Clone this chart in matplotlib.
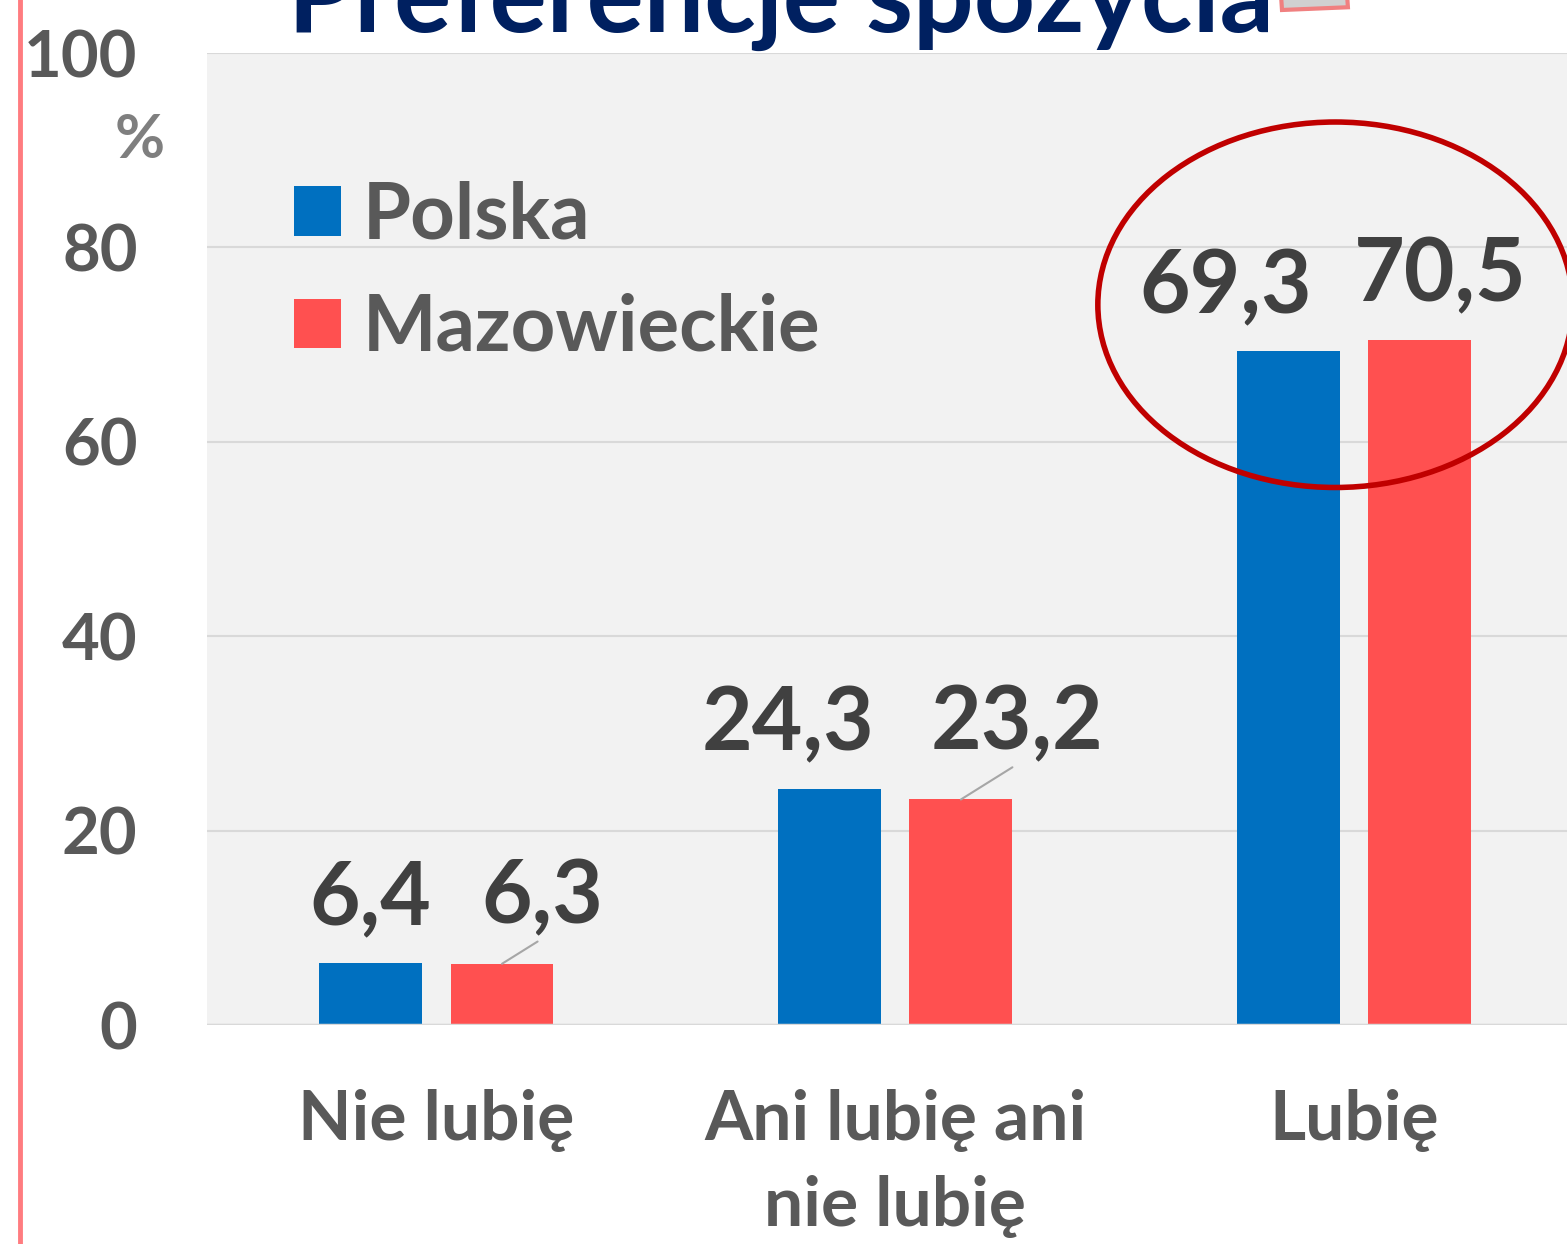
import numpy as np
import matplotlib.pyplot as plt
from matplotlib.patches import Ellipse, Rectangle
from matplotlib.lines import Line2D

plt.rcParams['font.family'] = ['Lato', 'DejaVu Sans']

# data
categories = ['Nie lubię', 'Ani lubię ani\nnie lubię', 'Lubię']
polska = [6.4, 24.3, 69.3]
mazowieckie = [6.3, 23.2, 70.5]
polska_labels = ['6,4', '24,3', '69,3']
mazow_labels = ['6,3', '23,2', '70,5']
yticks = [0, 20, 40, 60, 80, 100]

blue = '#0070C0'
red = '#FF5050'
grey_txt = '#595959'
lbl_txt = '#404040'

fig = plt.figure(figsize=(15.67, 12.44), dpi=100)
ax = fig.add_axes([207 / 1567, 1 - 1025 / 1244, 1 - 207 / 1567, (1025 - 53) / 1244])
ax.set_facecolor('#F2F2F2')

x = np.arange(len(categories))
w = 0.224
off = 0.143
b1 = ax.bar(x - off, polska, w, color=blue, label='Polska', zorder=3)
b2 = ax.bar(x + off, mazowieckie, w, color=red, label='Mazowieckie', zorder=3)

ax.set_xlim(-0.5, 2.464)
ax.set_ylim(0, 100)
ax.set_yticks(yticks)
ax.set_yticklabels([str(v) for v in yticks])
ax.grid(axis='y', color='#D9D9D9', linewidth=1.5, zorder=0)
ax.axhline(0, color='#D9D9D9', linewidth=2.5, zorder=4)
for s in ax.spines.values():
    s.set_visible(False)
ax.tick_params(length=0)
ax.tick_params(axis='y', pad=50, labelsize=47, labelcolor=grey_txt)
ax.tick_params(axis='x', pad=46, labelsize=50, labelcolor=grey_txt)
ax.set_xticks(x)
ax.set_xticklabels(categories, linespacing=1.45)
for t in ax.get_xticklabels() + ax.get_yticklabels():
    t.set_fontweight('bold')

# data labels (pixel offsets from bar top center)
p_off = [(0, 38), (-42, 38), (-63, 38)]
m_off = [(40, 40), (56, 50), (21, 38)]
leader = [True, True, False]
for i in range(len(categories)):
    ax.annotate(polska_labels[i], (x[i] - off, polska[i]), xytext=p_off[i],
                textcoords='offset pixels', ha='center', va='baseline',
                fontsize=63, fontweight='bold', color=lbl_txt, zorder=5)
    ap = None
    if leader[i]:
        ap = dict(arrowstyle='-', color='#A6A6A6', lw=1.5, shrinkA=0, shrinkB=0,
                  relpos=(0.5, 0.0))
    ax.annotate(mazow_labels[i], (x[i] + off, mazowieckie[i]), xytext=m_off[i],
                textcoords='offset pixels', ha='center', va='baseline',
                fontsize=63, fontweight='bold', color=lbl_txt, zorder=5,
                arrowprops=ap)

# legend
leg = ax.legend(loc='upper left', bbox_to_anchor=(0.041, 0.901), frameon=False,
                prop=dict(size=56, weight='bold'), handlelength=0.6,
                handleheight=0.6, handletextpad=0.28, labelspacing=0.52,
                borderaxespad=0)
for t in leg.get_texts():
    t.set_color(grey_txt)

# highlight ellipse
ax.add_patch(Ellipse((1.959, 74.1), 1.035, 37.6, fill=False, edgecolor='#C00000',
                     linewidth=4, zorder=6, clip_on=False))

# % label
fig.text(140 / 1567, 1 - 140 / 1244, '%', ha='center', va='center', fontsize=44,
         fontweight='bold', color='#7F7F7F')

# title (cut at top, as in the source slide)
fig.text(288 / 1567, 1 - 32 / 1244, 'Preferencje spożycia', ha='left', va='baseline',
         fontsize=77, fontweight='bold', color='#002060')

# small pink-edged box next to title
fig.patches.append(Rectangle((1282 / 1567, 1 - 10 / 1244), 66 / 1567, 14 / 1244,
                             angle=3, transform=fig.transFigure, facecolor='#D0D0D0',
                             edgecolor='#F08080', linewidth=3))

# left pink line
fig.add_artist(Line2D([20 / 1567, 20 / 1567], [0, 1], transform=fig.transFigure,
                      color='#FF7C80', linewidth=3.5))

fig.savefig('out.png', dpi=100)
